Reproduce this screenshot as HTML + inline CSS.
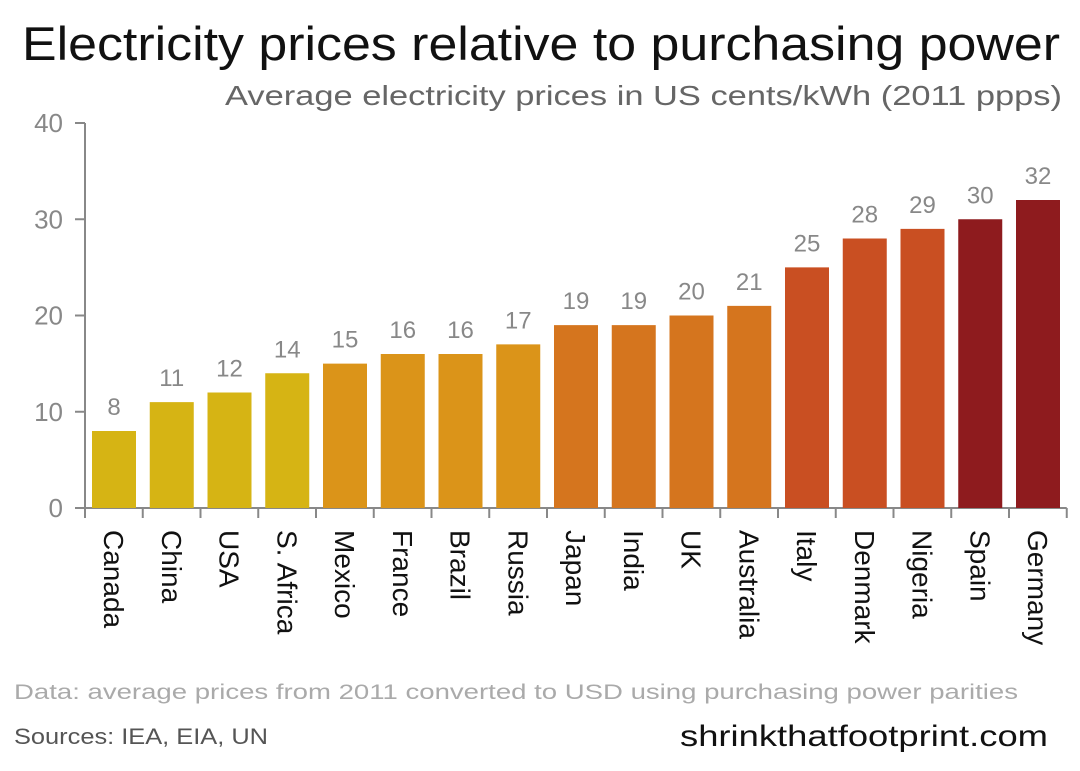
<!DOCTYPE html>
<html><head><meta charset="utf-8"><style>
html,body{margin:0;padding:0;background:#fff;}
body{width:1080px;height:766px;overflow:hidden;font-family:"Liberation Sans",sans-serif;}
svg text{font-family:"Liberation Sans",sans-serif;}
</style></head><body>
<svg id="chart" width="1080" height="766">
<text x="22" y="60" font-size="47" fill="#111" textLength="1038" lengthAdjust="spacingAndGlyphs">Electricity prices relative to purchasing power</text>
<text x="225" y="105" font-size="28" fill="#666" textLength="837" lengthAdjust="spacingAndGlyphs">Average electricity prices in US cents/kWh (2011 ppps)</text>
<g id="axes"></g><g id="bars"></g>
<text x="14" y="699" font-size="21" fill="#aaa" textLength="1004" lengthAdjust="spacingAndGlyphs">Data:  average prices from 2011 converted to USD using purchasing power parities</text>
<text x="14" y="744" font-size="22" fill="#555" textLength="254" lengthAdjust="spacingAndGlyphs">Sources:  IEA, EIA, UN</text>
<text x="680" y="746" font-size="30" fill="#111" textLength="368" lengthAdjust="spacingAndGlyphs">shrinkthatfootprint.com</text>
</svg>
<script>
const categories=["Canada","China","USA","S. Africa","Mexico","France","Brazil","Russia","Japan","India","UK","Australia","Italy","Denmark","Nigeria","Spain","Germany"];
const values=[8,11,12,14,15,16,16,17,19,19,20,21,25,28,29,30,32];
const colors=["#d6b414","#d6b414","#d6b414","#d6b414","#db9419","#db9419","#db9419","#db9419","#d5751e","#d5751e","#d5751e","#d5751e","#c94f22","#c94f22","#c94f22","#8e1b1e","#8e1b1e"];
const yTicks=[0,10,20,30,40];
const NS="http://www.w3.org/2000/svg";
const x0=85,step=57.75,bw=44,y0=508,yTop=123,yMax=40;
const y=v=>y0-(y0-yTop)*v/yMax;
const xb=i=>x0+7+i*step;
function mk(t,a,p){const e=document.createElementNS(NS,t);for(const k in a)e.setAttribute(k,a[k]);p.appendChild(e);return e;}
const ax=document.getElementById('axes'),bg=document.getElementById('bars');
let l=mk('line',{x1:x0,y1:yTop,x2:x0,y2:y0,stroke:'#888','stroke-width':2},ax);


l=mk('line',{x1:x0-10,y1:y0,x2:x0+categories.length*step,y2:y0,stroke:'#888','stroke-width':2},ax);


yTicks.forEach(t=>{
 mk('line',{x1:x0-10,y1:y(t),x2:x0,y2:y(t),stroke:'#888','stroke-width':2},ax);
 const tx=mk('text',{x:x0-22,y:y(t)+9,'text-anchor':'end','font-size':26,fill:'#888'},ax);
 tx.textContent=t;
 
 
});
for(let i=0;i<=categories.length;i++){mk('line',{x1:x0+i*step,y1:y0,x2:x0+i*step,y2:y0+10,stroke:'#888','stroke-width':2},ax);}
categories.forEach((c,i)=>{
 const r=mk('rect',{x:xb(i),y:y(values[i]),width:bw,height:y0-y(values[i]),fill:colors[i]},bg);
 
 
 const v=mk('text',{x:xb(i)+bw/2,y:y(values[i])-16,'text-anchor':'middle','font-size':24,fill:'#888'},bg);
 v.textContent=values[i];
 
 
 const cx=xb(i)+bw/2-10;
 const t=mk('text',{x:cx,y:530,'font-size':28,fill:'#111',transform:`rotate(90 ${cx} 530)`},bg);
 t.textContent=c;
 
 
});
</script>
</body></html>
